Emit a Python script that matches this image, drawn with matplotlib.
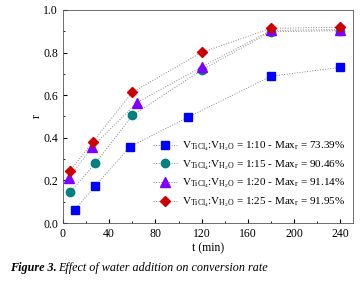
import matplotlib
matplotlib.use('Agg')
import matplotlib.pyplot as plt
from matplotlib.ticker import MultipleLocator

plt.rcParams['font.family'] = 'Liberation Serif'
plt.rcParams['mathtext.fontset'] = 'custom'
plt.rcParams['mathtext.rm'] = 'Liberation Serif'
plt.rcParams['mathtext.it'] = 'Liberation Serif:italic'

t_sq = [10, 28, 58, 108, 180, 240]
r_sq = [0.061, 0.174, 0.358, 0.496, 0.689, 0.731]
t_ci = [6, 28, 60, 120, 180, 240]
r_ci = [0.144, 0.280, 0.505, 0.718, 0.898, 0.903]
t_tr = [5, 25, 64, 120, 180, 240]
r_tr = [0.212, 0.355, 0.565, 0.733, 0.904, 0.908]
t_di = [6, 26, 60, 120, 180, 240]
r_di = [0.244, 0.382, 0.614, 0.801, 0.914, 0.919]

ratios = ['1:10', '1:15', '1:20', '1:25']
maxr = ['73.39', '90.46', '91.14', '91.95']

fig = plt.figure(figsize=(3.63, 2.83), dpi=100)
ax = fig.add_axes([63/363, 1-223/283, 290/363, 213/283])

series = [(t_sq, r_sq, 's', '#0000ff', 5.5),
          (t_ci, r_ci, 'o', '#008080', 6),
          (t_tr, r_tr, '^', '#8000ff', 6.5),
          (t_di, r_di, 'D', '#cc0000', 5.5)]
for (t, r, m, c, ms), rat, mx in zip(series, ratios, maxr):
    lab = (r'$\mathregular{V_{TiCl_4}}$:$\mathregular{V_{H_2O}}$ = ' + rat +
           r' - Max$_\mathregular{r}$ = ' + mx + '%')
    ax.plot(t, r, ls=':', lw=0.7, color='#888888', marker=m, ms=ms,
            mfc=c, mec=c, label=lab)

ax.set_xlim(0, 251)
ax.set_ylim(0, 1.0)
ax.xaxis.set_major_locator(MultipleLocator(40))
ax.xaxis.set_minor_locator(MultipleLocator(20))
ax.yaxis.set_major_locator(MultipleLocator(0.2))
ax.yaxis.set_minor_locator(MultipleLocator(0.1))
ax.yaxis.set_major_formatter(plt.FormatStrFormatter('%.1f'))
ax.tick_params(which='both', direction='in', labelsize=8.5)
ax.tick_params(which='major', length=3)
ax.tick_params(which='minor', length=1.5)
for s in ax.spines.values():
    s.set_linewidth(0.6)
    s.set_color('#555555')
ax.set_xlabel('t (min)', fontsize=8.5, labelpad=2)
ax.set_ylabel('r', fontsize=8.5, labelpad=0)

ax.legend(loc='lower right', bbox_to_anchor=(1.007, 0.019), fontsize=8,
          frameon=False, handlelength=2.2, handletextpad=0.4,
          labelspacing=0.45, borderaxespad=0.5)

fig.text(10/363, 1-268/283, r'Figure 3.', fontsize=8.7, fontweight='bold',
         style='italic', va='center')
fig.text(58/363, 1-268/283, 'Effect of water addition on conversion rate',
         fontsize=8.7, style='italic', va='center')

fig.savefig('out.png', dpi=100)
